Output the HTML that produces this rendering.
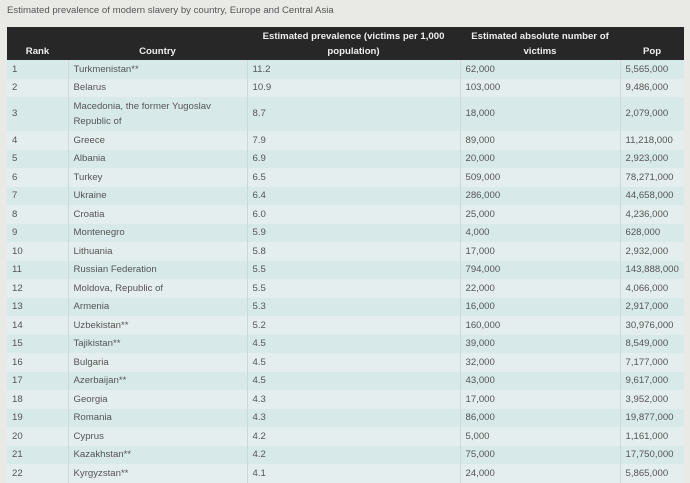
<!DOCTYPE html>
<html>
<head>
<meta charset="utf-8">
<style>
html,body{margin:0;padding:0;}
body{width:690px;height:480px;overflow:hidden;background:#e9e9e6;font-family:"Liberation Sans",Arial,sans-serif;position:relative;}
.title{position:absolute;left:7px;top:4px;font-size:9.6px;line-height:14px;color:#555;white-space:nowrap;}
table{position:absolute;left:7px;top:27px;width:677px;border-collapse:collapse;table-layout:fixed;font-size:9.6px;}
th{background:#272727;color:#eee;font-weight:bold;line-height:15px;padding:1.5px 4px;vertical-align:bottom;text-align:center;height:30px;box-sizing:content-box;}
td{color:#555;line-height:15.5px;padding:1.5px 5px;vertical-align:middle;border-left:1px solid #c9d8d8;white-space:nowrap;}
td:first-child{border-left:none;}
tr.o td{background:#d7e9e9;}
tr.e td{background:#e4eeee;}
</style>
</head>
<body>
<div class="title">Estimated prevalence of modern slavery by country, Europe and Central Asia</div>
<table>
<colgroup><col style="width:61px"><col style="width:179px"><col style="width:213px"><col style="width:160px"><col style="width:64px"></colgroup>
<tr><th>Rank</th><th>Country</th><th>Estimated prevalence (victims per 1,000<br>population)</th><th>Estimated absolute number of<br>victims</th><th>Pop</th></tr>
<tr class="o"><td>1</td><td>Turkmenistan**</td><td>11.2</td><td>62,000</td><td>5,565,000</td></tr>
<tr class="e"><td>2</td><td>Belarus</td><td>10.9</td><td>103,000</td><td>9,486,000</td></tr>
<tr class="o"><td>3</td><td>Macedonia, the former Yugoslav<br>Republic of</td><td>8.7</td><td>18,000</td><td>2,079,000</td></tr>
<tr class="e"><td>4</td><td>Greece</td><td>7.9</td><td>89,000</td><td>11,218,000</td></tr>
<tr class="o"><td>5</td><td>Albania</td><td>6.9</td><td>20,000</td><td>2,923,000</td></tr>
<tr class="e"><td>6</td><td>Turkey</td><td>6.5</td><td>509,000</td><td>78,271,000</td></tr>
<tr class="o"><td>7</td><td>Ukraine</td><td>6.4</td><td>286,000</td><td>44,658,000</td></tr>
<tr class="e"><td>8</td><td>Croatia</td><td>6.0</td><td>25,000</td><td>4,236,000</td></tr>
<tr class="o"><td>9</td><td>Montenegro</td><td>5.9</td><td>4,000</td><td>628,000</td></tr>
<tr class="e"><td>10</td><td>Lithuania</td><td>5.8</td><td>17,000</td><td>2,932,000</td></tr>
<tr class="o"><td>11</td><td>Russian Federation</td><td>5.5</td><td>794,000</td><td>143,888,000</td></tr>
<tr class="e"><td>12</td><td>Moldova, Republic of</td><td>5.5</td><td>22,000</td><td>4,066,000</td></tr>
<tr class="o"><td>13</td><td>Armenia</td><td>5.3</td><td>16,000</td><td>2,917,000</td></tr>
<tr class="e"><td>14</td><td>Uzbekistan**</td><td>5.2</td><td>160,000</td><td>30,976,000</td></tr>
<tr class="o"><td>15</td><td>Tajikistan**</td><td>4.5</td><td>39,000</td><td>8,549,000</td></tr>
<tr class="e"><td>16</td><td>Bulgaria</td><td>4.5</td><td>32,000</td><td>7,177,000</td></tr>
<tr class="o"><td>17</td><td>Azerbaijan**</td><td>4.5</td><td>43,000</td><td>9,617,000</td></tr>
<tr class="e"><td>18</td><td>Georgia</td><td>4.3</td><td>17,000</td><td>3,952,000</td></tr>
<tr class="o"><td>19</td><td>Romania</td><td>4.3</td><td>86,000</td><td>19,877,000</td></tr>
<tr class="e"><td>20</td><td>Cyprus</td><td>4.2</td><td>5,000</td><td>1,161,000</td></tr>
<tr class="o"><td>21</td><td>Kazakhstan**</td><td>4.2</td><td>75,000</td><td>17,750,000</td></tr>
<tr class="e"><td>22</td><td>Kyrgyzstan**</td><td>4.1</td><td>24,000</td><td>5,865,000</td></tr>
</table>
</body>
</html>
